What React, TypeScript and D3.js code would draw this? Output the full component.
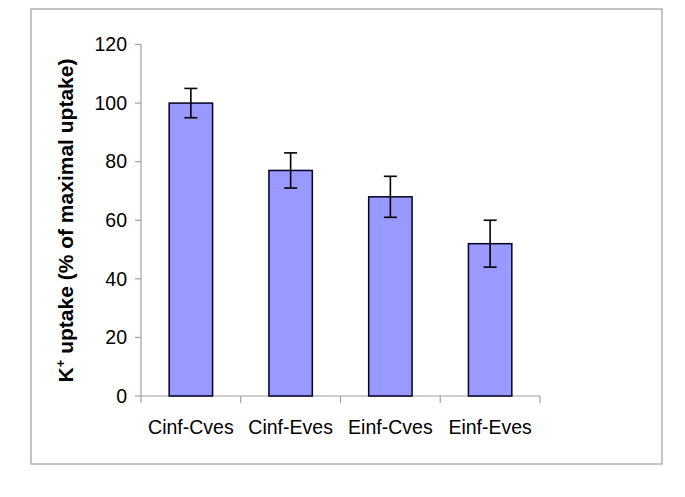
import React from "react";
import * as d3 from "d3";

const categories = ["Cinf-Cves", "Cinf-Eves", "Einf-Cves", "Einf-Eves"];
const values = [100, 77, 68, 52];
const errors = [5, 6, 7, 8];
const yTicks = [0, 20, 40, 60, 80, 100, 120];

export default function App() {
  const W = 685;
  const H = 497;
  const x = d3.scaleBand<string>().domain(categories).range([141, 540]).paddingInner(0.565).paddingOuter(0.2825);
  const xCat = d3.scaleBand<string>().domain(categories).range([141, 540]);
  const y = d3.scaleLinear().domain([0, 120]).range([396, 44.5]);
  const font = "'Liberation Sans', Arial, sans-serif";
  const axisColor = "#a0a0a0";
  const capW = 13;

  return (
    <svg width={W} height={H} style={{ position: "absolute", left: 0, top: 0, background: "#fff" }}>
      <rect x={31} y={9} width={631} height={455} fill="#fff" stroke="#b0b0b0" strokeWidth={1.5} />
      {/* y axis */}
      <line x1={141} x2={141} y1={y(120)} y2={y(0)} stroke={axisColor} strokeWidth={1.2} />
      {yTicks.map((t) => (
        <g key={t}>
          <line x1={135} x2={141} y1={y(t)} y2={y(t)} stroke={axisColor} strokeWidth={1.2} />
          <text x={127} y={y(t)} dy="0.35em" textAnchor="end" fontFamily={font} fontSize={19.5} fill="#000">
            {t}
          </text>
        </g>
      ))}
      {/* x axis */}
      <line x1={141} x2={540} y1={y(0)} y2={y(0)} stroke={axisColor} strokeWidth={1.2} />
      {[...categories.map((c) => xCat(c) as number), 540].map((px, i) => (
        <line key={i} x1={px} x2={px} y1={y(0)} y2={y(0) + 7} stroke={axisColor} strokeWidth={1.2} />
      ))}
      {categories.map((c) => (
        <text
          key={c}
          x={(xCat(c) as number) + xCat.bandwidth() / 2}
          y={434}
          textAnchor="middle"
          fontFamily={font}
          fontSize={19.5}
          fill="#000"
        >
          {c}
        </text>
      ))}
      {/* bars */}
      {categories.map((c, i) => (
        <rect
          key={c}
          x={x(c) as number}
          y={y(values[i])}
          width={x.bandwidth()}
          height={y(0) - y(values[i])}
          fill="#9999FF"
          stroke="#000022"
          strokeWidth={1.5}
        />
      ))}
      {/* error bars */}
      {categories.map((c, i) => {
        const cx = (x(c) as number) + x.bandwidth() / 2;
        const top = y(values[i] + errors[i]);
        const bot = y(values[i] - errors[i]);
        return (
          <g key={c} stroke="#000" strokeWidth={1.6}>
            <line x1={cx} x2={cx} y1={top} y2={bot} />
            <line x1={cx - capW / 2} x2={cx + capW / 2} y1={top} y2={top} />
            <line x1={cx - capW / 2} x2={cx + capW / 2} y1={bot} y2={bot} />
          </g>
        );
      })}
      {/* y label */}
      <text
        transform={`translate(73, 220.5) rotate(-90)`}
        textAnchor="middle"
        fontFamily={font}
        fontSize={21}
        fontWeight="bold"
        fill="#000"
      >
        K<tspan dy="-8" fontSize={13}>+</tspan>
        <tspan dy="8"> uptake (% of maximal uptake)</tspan>
      </text>
    </svg>
  );
}
